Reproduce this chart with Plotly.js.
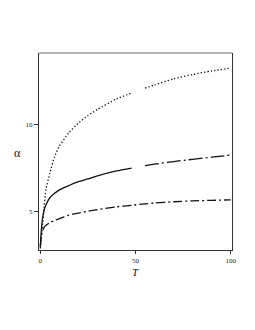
<!DOCTYPE html>
<html>
<head>
<meta charset="utf-8">
<script src="https://cdn.plot.ly/plotly-3.0.1.min.js"></script>
<style>html,body{margin:0;padding:0;background:#fff;}#chart{width:255px;height:330px;}</style>
</head>
<body>
<div id="chart"></div>
<script>
// Data
const T       = [0, 0.5, 1, 2, 3, 5, 7.5, 10, 15, 20, 25, 30, 40, 48, 55, 60, 70, 80, 90, 100];
const alphaTop = [2.9, 3.6, 4.0, 5.3, 6.3, 7.2, 8.15, 8.75, 9.52, 10.07, 10.5, 10.85, 11.45, 11.8, 12.07, 12.25, 12.6, 12.85, 13.05, 13.22];
const alphaMid = [3.0, 3.9, 4.5, 5.1, 5.4, 5.8, 6.05, 6.25, 6.5, 6.72, 6.88, 7.05, 7.33, 7.5, 7.64, 7.72, 7.87, 8.0, 8.12, 8.24];
const alphaBot = [3.0, 3.6, 3.85, 4.1, 4.22, 4.38, 4.5, 4.6, 4.8, 4.92, 5.03, 5.12, 5.28, 5.37, 5.45, 5.5, 5.57, 5.62, 5.65, 5.68];
const xTicks = [0, 50, 100];
const yTicks = [5, 10];

const splitLo = T.indexOf(48);
const splitHi = T.indexOf(55);

function seg(arr, a, b) { return arr.slice(a, b); }

const traces = [
  {x: seg(T, 0, splitLo + 1), y: seg(alphaTop, 0, splitLo + 1), mode: 'lines', line: {color: '#111', width: 1.3, dash: '1.3px,2.1px'}},
  {x: seg(T, splitHi), y: seg(alphaTop, splitHi), mode: 'lines', line: {color: '#111', width: 1.3, dash: '1.3px,2.1px'}},
  {x: seg(T, 0, splitLo + 1), y: seg(alphaMid, 0, splitLo + 1), mode: 'lines', line: {color: '#111', width: 1.3}},
  {x: seg(T, splitHi), y: seg(alphaMid, splitHi), mode: 'lines', line: {color: '#111', width: 1.3, dash: '14px,3px,2px,3px'}},
  {x: T, y: alphaBot, mode: 'lines', line: {color: '#111', width: 1.3, dash: '9px,3px,2px,3px'}}
];
traces.forEach(t => { t.line.shape = 'spline'; t.line.smoothing = 0.6; t.showlegend = false; t.hoverinfo = 'skip'; });

const tickFont = {family: 'Liberation Serif, serif', size: 7, color: '#222'};

const layout = {
  width: 255, height: 330,
  margin: {l: 39, r: 23, t: 53, b: 80},
  paper_bgcolor: '#fff', plot_bgcolor: '#fff',
  showlegend: false,
  xaxis: {
    range: [-0.7, 100.7], tickvals: xTicks, ticktext: xTicks.map(String),
    ticks: 'outside', ticklen: 3, tickwidth: 1, tickcolor: '#333',
    showline: true, linecolor: '#333', linewidth: 1.2, mirror: false,
    showgrid: false, zeroline: false, tickfont: tickFont
  },
  yaxis: {
    range: [2.81, 14.08], tickvals: yTicks, ticktext: yTicks.map(String),
    ticks: 'outside', ticklen: 4, tickwidth: 1, tickcolor: '#333',
    showline: true, linecolor: '#333', linewidth: 1.2, mirror: true,
    showgrid: false, zeroline: false, tickfont: tickFont
  },
  shapes: [
    {type: 'line', xref: 'paper', yref: 'paper', x0: 0, x1: 1, y0: 1, y1: 1, line: {color: '#999', width: 1.5}}
  ],
  annotations: [
    {text: 'α', xref: 'paper', yref: 'paper', x: -0.109, y: 0.492, xanchor: 'center', yanchor: 'middle', showarrow: false,
     font: {family: 'Liberation Serif, serif', size: 12, color: '#111'}},
    {text: '<i>T</i>', xref: 'paper', yref: 'paper', x: 0.5, y: -0.112, xanchor: 'center', yanchor: 'middle', showarrow: false,
     font: {family: 'Liberation Serif, serif', size: 11, color: '#111'}}
  ]
};

Plotly.newPlot('chart', traces, layout, {staticPlot: true, displayModeBar: false});
</script>
</body>
</html>
